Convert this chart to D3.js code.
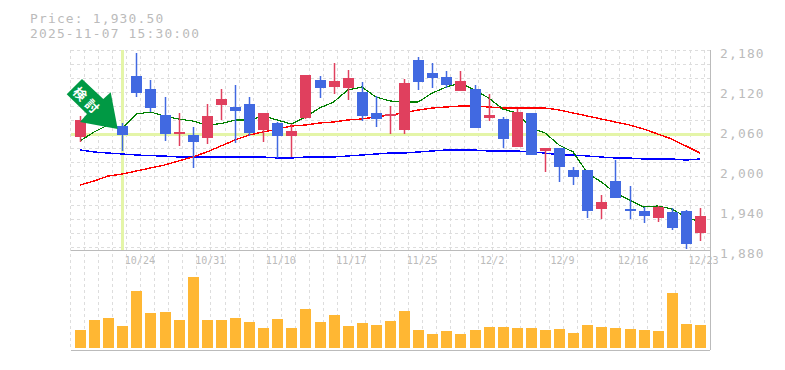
<!DOCTYPE html>
<html>
<head>
<meta charset="utf-8">
<script src="https://cdn.jsdelivr.net/npm/d3@7"></script>
<style>
  html, body { margin: 0; padding: 0; background: #fff; }
  svg { display: block; }
  text { font-family: "DejaVu Sans Mono", monospace; fill: #bbb; }
</style>
</head>
<body>
<svg id="chart" width="785" height="370"></svg>
<script>
const width = 785;
const height = 370;

// Daily candles
const opens = [2049.5,2105,2090,2066,2141,2121.5,2082.5,2054,2052.5,2048,2097.5,2094.5,2099,2060,2070.5,2051,2078,2135,2124.5,2123,2117,2085.5,2081,2060,2165,2145.5,2139.5,2118.5,2121.5,2078,2076.5,2034.5,2085.5,2028.5,2033,2000,2000,1941.5,1983.5,1941.5,1938.5,1928,1937,1938.5,1905.5];
const highs = [2081,2109.5,2108,2070.5,2175.5,2135,2109.5,2085.5,2064.5,2099,2121.5,2127.5,2109.5,2085.5,2072,2069,2142.5,2141,2160.5,2150,2132,2111,2096,2136.5,2169.5,2160.5,2148.5,2148.5,2127.5,2114,2079.5,2091.5,2085.5,2033,2033,2004.5,2000,1962.5,2015,1976,1944.5,1946,1943,1940,1943];
const lows = [2042,2081,2067.5,2028.5,2109.5,2087,2043.5,2036,2003,2039,2075,2040.5,2051,2042,2018,2019.5,2076.5,2108,2114,2105,2073.5,2064.5,2054,2054,2120,2123,2123,2118.5,2063,2073.5,2033,2034.5,2022.5,1997,1982,1977.5,1928,1926.5,1958,1926.5,1920.5,1922,1910,1881.5,1893.5];
const closes = [2075,2087,2072,2052.5,2116,2093,2054,2057,2042,2081,2106.5,2088.5,2055.5,2085.5,2051,2058.5,2142.5,2123,2133.5,2138,2081,2076.5,2084,2130.5,2132,2138,2127.5,2133.5,2063,2082.5,2046.5,2087,2022.5,2033,2004.5,1989.5,1938.5,1952,1958,1938.5,1931,1944.5,1913,1889,1930.5];

// Moving averages
const maShort = [2043.5,2057,2067.5,2063,2084,2087,2081,2076.5,2073.5,2067.5,2069.5,2075,2075,2081,2075,2069,2079.5,2093,2102,2120,2124.5,2109.5,2103.5,2102,2102,2115.5,2124.5,2130.5,2120,2108,2091.5,2085.5,2063,2055.5,2037.5,2027,1995.5,1982,1965.5,1955,1944.5,1946,1941.5,1929.5,1922];
const maMid = [1977.5,1983.5,1991,1994,1998.5,2003,2007.5,2013.5,2019.5,2027,2036,2045,2052.5,2057,2061.5,2066,2067.5,2070.5,2072,2075,2076.5,2079.5,2082.5,2085.5,2090,2093,2094.5,2096,2096,2094.5,2093,2093,2093,2093,2090,2085.5,2081,2076.5,2072,2067.5,2061.5,2054,2046.5,2036,2025.5];
const maLong = [2030,2027,2025.5,2024,2022.5,2021.5,2021,2019.5,2019.5,2019.5,2019.5,2019.5,2019.5,2019.5,2018,2018,2019.5,2019.5,2019.5,2021,2022.5,2024,2025.5,2025.5,2027,2028.5,2030,2030,2030,2028.5,2028.5,2028.5,2027,2025.5,2022.5,2022.5,2021,2019.5,2018,2018,2016.5,2016.5,2016.5,2015,2016.5];

const volumes = [18,28,30,22,57,35,36,28,71,28,28,30,26,20,29,20,39,26,33,22,25,23,27,37,18,14,17,14,18,21,21,20,20,18,19,15,23,21,20,19,18,17,55,24,23];

const priceTicks = [2180,2120,2060,2000,1940,1880];
const dateTicks = [[4,"10/24"],[9,"10/31"],[14,"11/10"],[19,"11/17"],[24,"11/25"],[29,"12/2"],[34,"12/9"],[39,"12/16"],[44,"12/23"]];
const currentPrice = 2053.5; // pale horizontal marker
const signalIndex = 3;       // pale vertical marker
const arrowLabel = "検討";

const titleLines = ["Price: 1,930.50", "2025-11-07 15:30:00"];

const red = "#e0405e";
const blue = "#4169e1";
const orange = "#ffb733";
const marker = "#e4f5a8";
const gridColor = "#ddd";
const frameColor = "#bbb";

const left = 70.5, right = 710, priceTop = 50, priceBottom = 250, volBottom = 350;

const x = d3.scaleLinear().domain([0, volumes.length - 1]).range([80, 700]);
const y = d3.scaleLinear().domain([1880, 2180]).range([priceBottom, priceTop]);
const yVol = d3.scaleLinear().domain([0, 98]).range([348, 250]);

const svg = d3.select("#chart");

// Title
svg.selectAll(".title")
    .data(titleLines)
    .enter()
    .append("text")
    .attr("class", "title")
    .attr("x", 30)
    .attr("y", (d, i) => 23 + i * 15)
    .attr("font-size", 12.9)
    .attr("letter-spacing", 1.2)
    .text(d => d);

// Grid, one step per candle
const grid = svg.append("g").attr("shape-rendering", "crispEdges");
const step = x(1) - x(0);
grid.selectAll(".v")
    .data(d3.range(0, 46))
    .enter()
    .append("line")
    .attr("x1", d => x(d) - 10)
    .attr("x2", d => x(d) - 10)
    .attr("y1", priceTop)
    .attr("y2", volBottom)
    .attr("stroke", gridColor)
    .attr("stroke-dasharray", "3,3");
grid.selectAll(".h")
    .data(d3.range(0, 15))
    .enter()
    .append("line")
    .attr("x1", left)
    .attr("x2", right)
    .attr("y1", d => priceTop + d * step)
    .attr("y2", d => priceTop + d * step)
    .attr("stroke", gridColor)
    .attr("stroke-dasharray", "3,3");

// Frame
const frame = svg.append("g").attr("shape-rendering", "crispEdges").attr("stroke", frameColor);
frame.append("line").attr("x1", left).attr("x2", right).attr("y1", priceBottom).attr("y2", priceBottom);
frame.append("line").attr("x1", left).attr("x2", right).attr("y1", volBottom).attr("y2", volBottom);
frame.append("line").attr("x1", right).attr("x2", right).attr("y1", priceTop).attr("y2", volBottom);

// Pale markers
svg.append("line")
    .attr("x1", left).attr("x2", right)
    .attr("y1", y(currentPrice)).attr("y2", y(currentPrice))
    .attr("stroke", marker).attr("stroke-width", 3)
    .attr("shape-rendering", "crispEdges");
svg.append("line")
    .attr("x1", x(signalIndex)).attr("x2", x(signalIndex))
    .attr("y1", priceTop).attr("y2", priceBottom)
    .attr("stroke", marker).attr("stroke-width", 3)
    .attr("shape-rendering", "crispEdges");

// Moving averages, under the candles
const line = d3.line().x((d, i) => x(i)).y(d => y(d));
[[maLong, "#0000ff", 1.4], [maMid, "#ff0000", 1.4], [maShort, "#008000", 1.2]].forEach(([values, color, w]) => {
    svg.append("path")
        .attr("d", line(values))
        .attr("fill", "none")
        .attr("stroke", color)
        .attr("stroke-width", w)
        .attr("shape-rendering", "crispEdges");
});

// Candles
const candleColor = i => closes[i] >= opens[i] ? red : blue;
const candles = svg.append("g");
candles.selectAll(".wick")
    .data(opens)
    .enter()
    .append("line")
    .attr("x1", (d, i) => Math.round(x(i)) + 0.5)
    .attr("x2", (d, i) => Math.round(x(i)) + 0.5)
    .attr("y1", (d, i) => y(highs[i]))
    .attr("y2", (d, i) => y(lows[i]))
    .attr("stroke-width", 1.5)
    .attr("stroke", (d, i) => candleColor(i));
candles.selectAll(".body")
    .data(opens)
    .enter()
    .append("rect")
    .attr("shape-rendering", "crispEdges")
    .attr("x", (d, i) => Math.round(x(i)) - 5)
    .attr("width", 11)
    .attr("y", (d, i) => y(Math.max(opens[i], closes[i])))
    .attr("height", (d, i) => Math.abs(y(opens[i]) - y(closes[i])))
    .attr("fill", (d, i) => candleColor(i));

// Volume bars
svg.append("g").attr("shape-rendering", "crispEdges")
    .selectAll("rect")
    .data(volumes)
    .enter()
    .append("rect")
    .attr("x", (d, i) => Math.round(x(i)) - 5)
    .attr("width", 11)
    .attr("y", d => yVol(d))
    .attr("height", d => yVol(0) - yVol(d))
    .attr("fill", orange);

// Axis labels
const axisY = d3.axisRight(y).tickValues(priceTicks).tickSize(0).tickPadding(0).tickFormat(d3.format(","));
const gy = svg.append("g").attr("transform", "translate(720,3)").call(axisY);
gy.select(".domain").remove();
gy.selectAll("text").attr("font-size", 12.9).attr("letter-spacing", 1.2)
    .style("font-family", '"DejaVu Sans Mono", monospace').attr("fill", "#bbb");

const xTicks = dateTicks.map(d => d[0]);
const axisX = d3.axisBottom(x).tickValues(xTicks).tickSize(0).tickPadding(0)
    .tickFormat(d => dateTicks.find(t => t[0] === d)[1]);
const gx = svg.append("g").attr("transform", "translate(3,257)").call(axisX);
gx.select(".domain").remove();
gx.selectAll("text").attr("font-size", 10)
    .style("font-family", '"DejaVu Sans Mono", monospace').attr("fill", "#c4c4c4");

// Arrow callout
const arrowPoints = [[66.7,94.3],[82,79],[103.3,99],[110.7,92.3],[117.7,129],[80,122],[87,114]];
svg.append("polygon")
    .attr("points", arrowPoints.join(" "))
    .attr("fill", "#009944");
svg.append("text")
    .attr("transform", "translate(88,101) rotate(45)")
    .attr("text-anchor", "middle")
    .attr("dominant-baseline", "central")
    .attr("font-size", 13)
    .attr("letter-spacing", 4)
    .attr("font-weight", "bold")
    .style("font-family", '"Noto Sans CJK JP", sans-serif')
    .style("fill", "#fff")
    .text(arrowLabel);
</script>
</body>
</html>
